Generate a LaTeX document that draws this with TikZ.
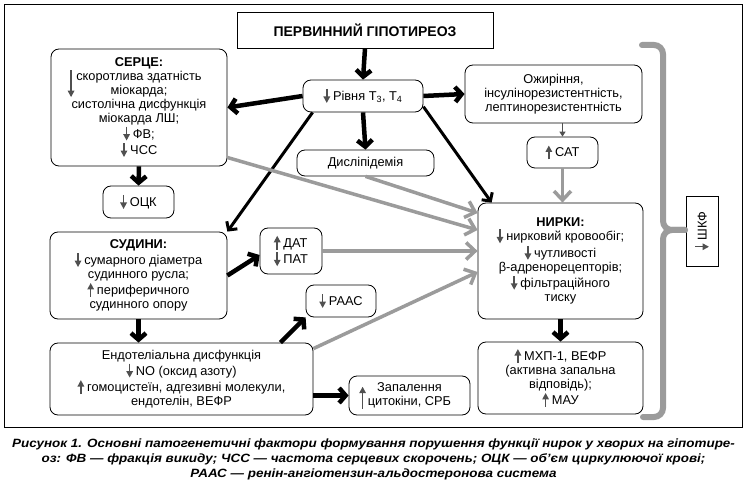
\documentclass[tikz,border=0pt]{standalone}
\usepackage{fontspec}
\setmainfont{Liberation Sans}
\newfontfamily\capfont[FakeStretch=1.12]{Liberation Sans}
\usetikzlibrary{arrows.meta}
\definecolor{arrgray}{HTML}{9B9B9B}
\definecolor{markgray}{HTML}{505050}
\newcommand{\vmark}[2]{\tikz[baseline=0pt]\draw[-{Triangle[length=6.5pt,width=6.5pt]},line width=1.5pt,markgray] (0pt,#1) -- (0pt,#2);}
\newcommand{\arrdn}{\vmark{11.5pt}{-2.5pt}\hspace{3pt}}
\newcommand{\arrup}{\vmark{-2.5pt}{11.5pt}\hspace{3pt}}
\begin{document}
\begin{tikzpicture}
        [x=1pt,y=-1pt,
         box/.style={draw,rounded corners=8pt,line width=0.8pt,align=center,inner sep=2pt,
                     font=\fontsize{12.8}{14}\selectfont},
         blackarr/.style={-{Straight Barb[length=6.5pt,width=15pt]},line width=4.5pt},
         slimarr/.style={-{Straight Barb[length=6pt,width=13pt]},line width=3pt},
         greyarr/.style={-{Straight Barb[length=9pt,width=17pt]},line width=3.5pt,arrgray},
         gfrbrace/.style={line width=6pt,arrgray,rounded corners=9pt,line cap=round},
         capline/.style={font=\capfont\bfseries\itshape\fontsize{12}{14}\selectfont,inner sep=0pt}]
        \useasboundingbox (0,0) rectangle (747,489);
        \draw[line width=0.8pt] (4,4) rectangle (742,427);

        \node[draw,line width=0.8pt,minimum width=256,minimum height=36,
              font=\bfseries\fontsize{14}{16}\selectfont] (hypo) at (365,30) {ПЕРВИННИЙ ГІПОТИРЕОЗ};
        \node[box,minimum width=120,minimum height=32] (level) at (363,96)
              {\arrdn Рівня T\textsubscript{3}, T\textsubscript{4}};
        \node[box,minimum width=137,minimum height=26] (dyslip) at (365.5,163) {Дисліпідемія};
        \node[box,minimum width=176,minimum height=117] (heart) at (139,107.5)
              {\textbf{СЕРЦЕ:}\\ \llap{\smash{\vmark{10pt}{-17pt}}\hspace{2pt}}скоротлива здатність\\ міокарда;\\
               систолічна дисфункція\\ міокарда ЛШ;\\ \arrdn ФВ;\\ \arrdn ЧСС};
        \node[box,minimum width=71,minimum height=32] (ock) at (138.5,202) {\arrdn ОЦК};
        \node[box,minimum width=177,minimum height=58] (obes) at (553.5,94)
              {Ожиріння,\\ інсулінорезистентність,\\ лептинорезистентність};
        \node[box,minimum width=71,minimum height=31] (sat) at (562.5,152.5) {\arrup САТ};
        \node[box,minimum width=165,minimum height=116] (kidney) at (560.5,261)
              {\textbf{НИРКИ:}\\ \arrdn нирковий кровообіг;\\ \arrdn чутливості\\ β-адренорецепторів;\\
               \arrdn фільтраційного\\ тиску};
        \node[box,minimum width=165,minimum height=72] (mcp) at (560.5,378)
              {\arrup МХП-1, ВЕФР\\ (активна запальна\\ відповідь);\\ \arrup МАУ};
        \node[draw,line width=0.8pt,rotate=90,minimum width=70,minimum height=32,
              font=\fontsize{12.8}{14}\selectfont] (gfr) at (702,231) {\arrdn ШКФ};
        \node[box,minimum width=177,minimum height=87] (vessels) at (138.5,275.5)
              {\textbf{СУДИНИ:}\\ \arrdn сумарного діаметра\\ судинного русла;\\
               \arrup периферичного\\ судинного опору};
        \node[box,align=left,minimum width=62,minimum height=46] (dat) at (291,251)
              {\arrup ДАТ\\ \arrdn ПАТ};
        \node[box,minimum width=70,minimum height=32] (raas) at (341,301) {\arrdn РААС};
        \node[box,minimum width=263,minimum height=72] (endo) at (181.5,379)
              {Ендотеліальна дисфункція\\ \arrdn NO (оксид азоту)\\
               \arrup гомоцистеїн, адгезивні молекули,\\ ендотелін, ВЕФР};
        \node[box,minimum width=121,minimum height=39] (infl) at (409.5,395.5)
              {Запалення\\ \llap{\smash{\vmark{-3pt}{19pt}}\hspace{2pt}}цитокіни, СРБ};

        \draw[blackarr] (hypo.south) -- (level.north);
        \draw[blackarr] (level.west) -- (heart.east);
        \draw[blackarr] (level.east) -- (obes.west);
        \draw[blackarr] (level.south) -- (dyslip.north);
        \draw[slimarr] ([xshift=10pt]level.south west) -- (vessels.north east);
        \draw[slimarr] (level.-10) -- ([xshift=14pt]kidney.north west);
        \draw[blackarr] (heart.south) -- (ock.north);
        \draw[blackarr] (vessels.south) -- (vessels.south |- endo.north);
        \draw[blackarr] (vessels.east) -- ([yshift=-4pt]dat.west);
        \draw[blackarr] ([xshift=-33pt]endo.north east) -- (raas.south west);
        \draw[blackarr] (endo.east |- infl.west) -- (infl.west);
        \draw[blackarr] (kidney.south) -- (mcp.north);

        \draw[greyarr] ([yshift=-50pt]heart.east) -- ([yshift=31pt]kidney.west);
        \draw[greyarr] (dyslip.south) -- ([yshift=48pt]kidney.west);
        \draw[greyarr] (dat.east) -- (dat.east -| kidney.west);
        \draw[greyarr] ([yshift=-6pt]endo.north east) -- ([yshift=-11pt]kidney.west);
        \draw[-{Triangle[length=5pt,width=6pt]},line width=1.5pt,markgray] (sat.north |- obes.south) -- (sat.north);
        \draw[greyarr] (sat.south) -- (sat.south |- kidney.north);

        \draw[gfrbrace] (642,45) -- (663,45) -- (663,230) -- (685,230);
        \draw[gfrbrace] (643,417) -- (663,417) -- (663,230) -- (685,230);

        \node[capline] (cap1) at (373.5,444)
              {Рисунок 1. Основні патогенетичні фактори формування порушення функції нирок у хворих на гіпотире-};
        \node[capline] (cap2) at (373.5,459)
              {оз: ФВ — фракція викиду; ЧСС — частота серцевих скорочень; ОЦК — об’єм циркулюючої крові;};
        \node[capline] (cap3) at (373.5,474)
              {РААС — ренін-ангіотензин-альдостеронова система};
      \end{tikzpicture}
\end{document}
